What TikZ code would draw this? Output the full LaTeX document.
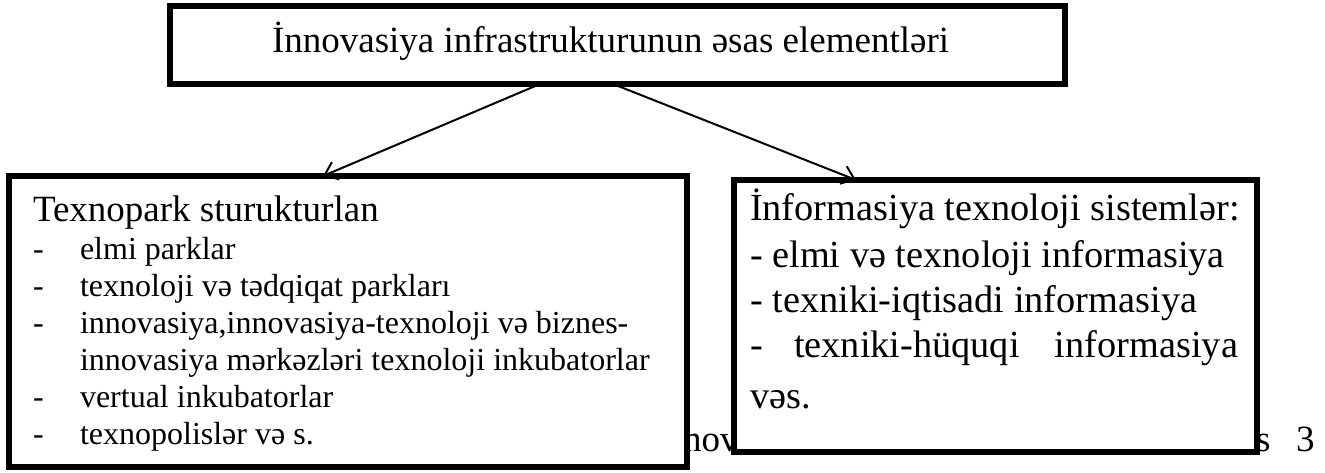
\documentclass[tikz,border=0pt]{standalone}
\usepackage{fontspec}
\setmainfont{Liberation Serif}
\usetikzlibrary{arrows.meta,calc}
\begin{document}
\begin{tikzpicture}[x=0.75pt,y=-0.75pt,
  boxframe/.style={draw, line width=4pt, fill=white, inner sep=0pt, outer sep=0pt, anchor=north west},
  bigtxt/.style={font=\fontsize{27.75}{32}\selectfont, inner sep=0pt, outer sep=0pt, anchor=base west},
  rtxt/.style={font=\fontsize{28.75}{33}\selectfont, inner sep=0pt, outer sep=0pt, anchor=base west},
  itemtxt/.style={font=\fontsize{24}{28}\selectfont, inner sep=0pt, outer sep=0pt, anchor=base west},
  conn/.style={line width=1.5pt, -{Straight Barb[length=9pt,width=14pt]}}]
\useasboundingbox (0,0) rectangle (1325,472);
% partly hidden background text
\node[bigtxt] (bg1) at (683,451) {nov};
\node[bigtxt] (bg2) at (1256,451) {s};
\node[bigtxt] (bg3) at (1296,451) {3};
% boxes
\node[boxframe, minimum width=671.25pt, minimum height=58.5pt] (top) at (170,6) {};
\node[boxframe, minimum width=508.5pt, minimum height=218.25pt] (lbox) at (9,176) {};
\node[boxframe, minimum width=392.25pt, minimum height=204pt] (rbox) at (734,180) {};
% top text
\node[bigtxt] (ttl) at (272,52) {İnnovasiya infrastrukturunun əsas elementləri};
% left box text
\node[bigtxt] (l0) at (33,221) {Texnopark sturukturlan};
\node[itemtxt] (d1) at (33,259) {-};
\node[itemtxt] (l1) at (80,259) {elmi parklar};
\node[itemtxt] (d2) at (33,296) {-};
\node[itemtxt] (l2) at (80,296) {texnoloji və tədqiqat parkları};
\node[itemtxt] (d3) at (33,333) {-};
\node[itemtxt] (l3) at (80,333) {innovasiya,innovasiya-texnoloji və biznes-};
\node[itemtxt] (l4) at (80,370) {innovasiya mərkəzləri texnoloji inkubatorlar};
\node[itemtxt] (d5) at (33,407) {-};
\node[itemtxt] (l5) at (80,407) {vertual inkubatorlar};
\node[itemtxt] (d6) at (33,444) {-};
\node[itemtxt] (l6) at (80,444) {texnopolislər və s.};
% right box text
\node[rtxt] (r0) at (750,220) {İnformasiya texnoloji sistemlər:};
\node[rtxt] (r1) at (750,267) {- elmi və texnoloji informasiya};
\node[rtxt] (r2) at (750,312) {- texniki-iqtisadi informasiya};
\node[rtxt] (r3a) at (750,357) {-};
\node[rtxt] (r3b) at (794,357) {texniki-hüquqi};
\node[rtxt, anchor=base east] (r3c) at (1238,357) {informasiya};
\node[rtxt] (r4) at (750,408) {vəs.};
% connectors
\coordinate (s1) at ($(top.south west)+(370,0)$);
\coordinate (s2) at ($(top.south west)+(443,0)$);
\coordinate (e1) at ($(lbox.north west)+(314,0)$);
\coordinate (e2) at ($(rbox.north west)+(122,0)$);
\draw[conn] (s1) -- (e1);
\draw[conn] (s2) -- (e2);
\end{tikzpicture}
\end{document}
